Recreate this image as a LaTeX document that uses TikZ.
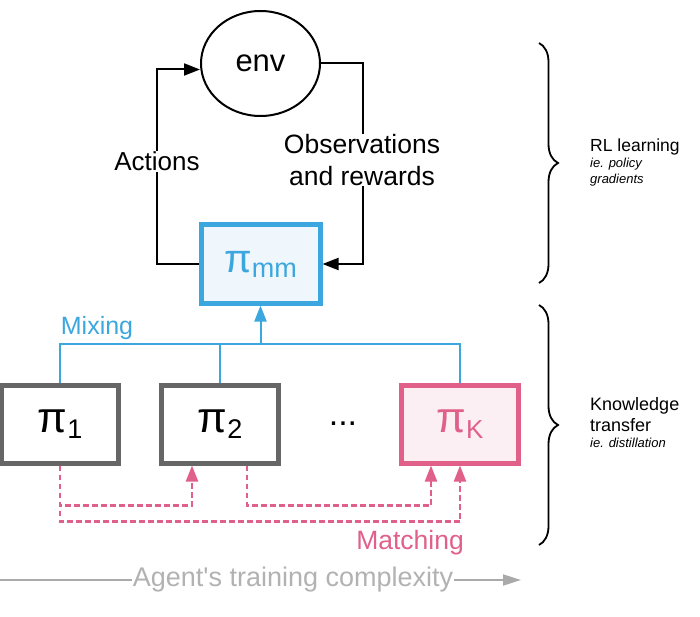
\documentclass[tikz,border=0pt]{standalone}
\usepackage{fontspec}
\setmainfont{Liberation Sans}[Ligatures=TeXOff]
\usetikzlibrary{arrows.meta,decorations.pathreplacing,shapes.geometric,calc}
\definecolor{mixblue}{HTML}{3BA7DE}
\definecolor{mixfill}{HTML}{EFF7FD}
\definecolor{matchpink}{HTML}{E0608A}
\definecolor{pinkfill}{HTML}{FCEFF4}
\definecolor{boxgray}{HTML}{666666}
\definecolor{axisgray}{HTML}{AAAAAA}
\newcommand{\fsz}[1]{\fontsize{#1}{#1}\selectfont}
\tikzset{
  polbox/.style={rectangle, line width=5pt, inner sep=0pt, minimum width=117pt, minimum height=78pt},
  conn/.style={line width=2pt, black},
  tip/.style={-{Triangle[length=16pt,width=12pt]}},
  mixline/.style={line width=2pt, mixblue},
  matchline/.style={line width=2.2pt, matchpink, dash pattern=on 5.5pt off 3.5pt},
  bracestyle/.style={line width=1.8pt, decorate, decoration={brace, amplitude=19pt, aspect=0.5}},
  lbl/.style={inner sep=1pt, fill=white, font=\fsz{26}},
}
\begin{document}
\begin{tikzpicture}[x=1pt,y=-1pt]
\useasboundingbox (0,0) rectangle (700,617);

% env and pi_mm
\node[ellipse, draw, line width=2pt, minimum width=119pt, minimum height=105pt, inner sep=0pt] (env) at (260.5,63.5) {\fsz{31}env};
\node[polbox, draw=mixblue, fill=mixfill, minimum width=119pt] (mm) at (260.5,264) {{\fsz{40}\textcolor{mixblue}{π}}\raisebox{-5pt}{\fsz{27}\textcolor{mixblue}{mm}}};

% policies
\node[polbox, draw=boxgray, fill=white] (p1) at (60,424) {{\fsz{43}π}\raisebox{-6pt}{\fsz{27}1}};
\node[polbox, draw=boxgray, fill=white] (p2) at (220,424) {{\fsz{43}π}\raisebox{-6pt}{\fsz{27}2}};
\node[inner sep=0pt] (dots) at (343,424) {\fsz{34}...};
\node[polbox, draw=matchpink, fill=pinkfill] (pk) at (460,424) {\textcolor{matchpink}{{\fsz{43}π}\raisebox{-6pt}{\fsz{26}K}}};

% RL loop
\coordinate (actcorner) at (157,264);
\draw[conn, tip] (mm.west) -- (actcorner) |- ([yshift=-6pt]env.west);
\coordinate (obscorner) at (363,63.5);
\draw[conn, tip] (env.east) -- (obscorner) |- (mm.east);
\node[lbl, anchor=base] (actlbl) at (157,171) {Actions};
\node[lbl, align=center, font=\fsz{26.5}] (obslbl) at (362,160) {Observations\\[5pt]and rewards};

% mixing
\coordinate (mixbar) at (260.5,344);
\draw[mixline] (p1.north) -- (p1.north |- mixbar) -- (pk.north |- mixbar) -- (pk.north);
\draw[mixline] (p2.north) -- (p2.north |- mixbar);
\draw[mixline, tip] (mixbar) -- (mm.south);
\node[text=mixblue, font=\fsz{25}, anchor=base] (mixlbl) at (97,334) {Mixing};

% matching
\coordinate (m12) at ($(p2.south)+(-28,0)$);
\coordinate (m2s) at ($(p2.south)+(27,0)$);
\coordinate (m2k) at ($(pk.south)+(-29,0)$);
\draw[matchline, tip] (p1.south) |- ($(m12)+(0,40)$) -- (m12);
\draw[matchline, tip] (p1.south) |- ($(pk.south)+(0,56)$) -- (pk.south);
\draw[matchline, tip] (m2s) |- ($(m2k)+(0,40)$) -- (m2k);
\node[text=matchpink, font=\fsz{26.5}, anchor=base east, inner sep=0pt] (matchlbl) at (464,549) {Matching};

% axis
\coordinate (axstart) at (0,580);
\coordinate (axend) at (521,580);
\draw[line width=2pt, axisgray, -{Triangle[length=18pt,width=11pt]}] (axstart) -- (axend);
\node[fill=white, inner xsep=1pt, inner ysep=0pt, text=axisgray!90, font=\fsz{27}] (axlbl) at (293,580) {Agent's training complexity};

% braces
\draw[bracestyle] (539,43) -- (539,283);
\draw[bracestyle] (539,305) -- (539,545);
\node[anchor=base west, inner sep=0pt, font=\fsz{17.5}] (rl1) at (590,152) {RL learning};
\node[anchor=base west, inner sep=0pt, font=\fsz{13}\itshape] (rl2) at (590,168) {ie. policy};
\node[anchor=base west, inner sep=0pt, font=\fsz{13}\itshape] (rl3) at (590,184) {gradients};
\node[anchor=base west, inner sep=0pt, font=\fsz{18}] (kt1) at (590,410) {Knowledge};
\node[anchor=base west, inner sep=0pt, font=\fsz{18}] (kt2) at (590,431) {transfer};
\node[anchor=base west, inner sep=0pt, font=\fsz{13}\itshape] (kt3) at (590,447) {ie. distillation};
\end{tikzpicture}
\end{document}
